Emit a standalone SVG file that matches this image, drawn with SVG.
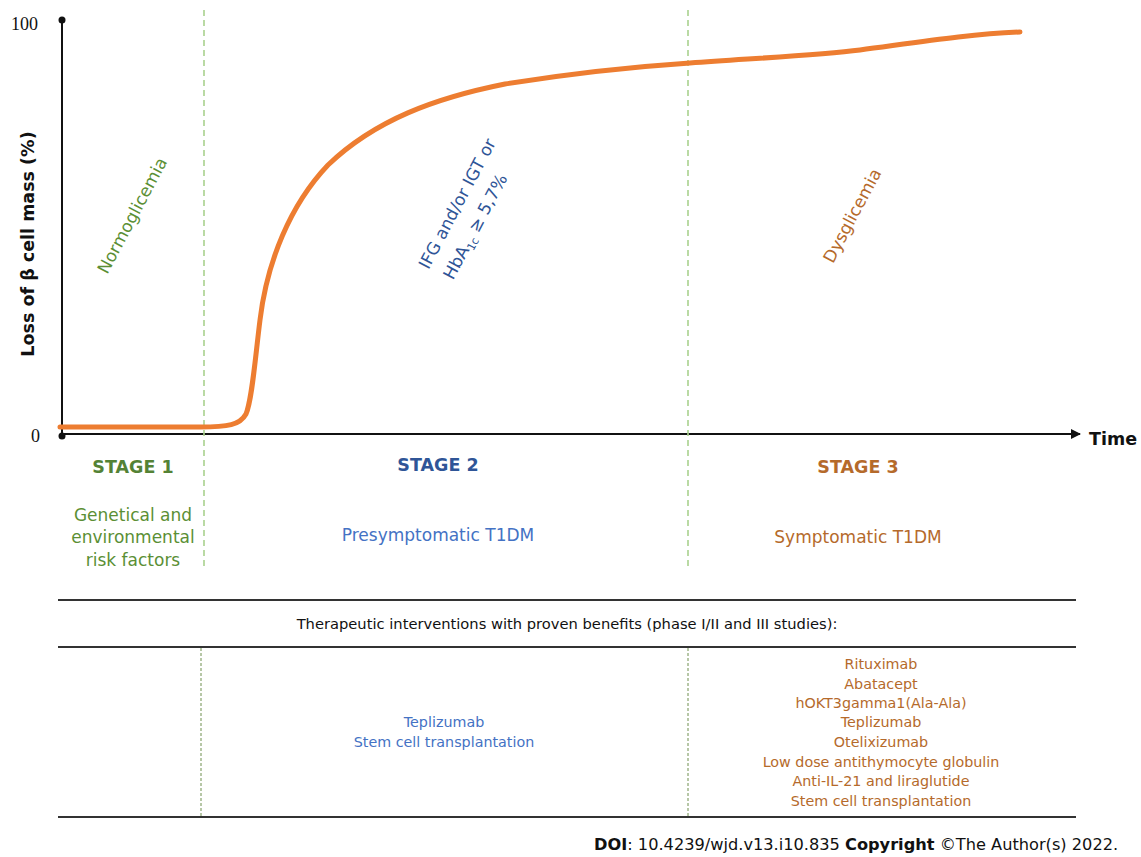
<svg xmlns="http://www.w3.org/2000/svg" width="1141" height="857" viewBox="0 0 1141 857">
<style>
text{font-family:"DejaVu Sans","Liberation Sans",sans-serif}
.num{font-family:"Liberation Serif",serif;font-size:18px;fill:#111}
.ax{stroke:#111;stroke-width:2;fill:none}
.sep{stroke:#a9d18e;stroke-width:1.6;stroke-dasharray:6,4;fill:none}
.sep2{stroke:#6f8f4f;stroke-width:1;stroke-dasharray:3,2;fill:none}
.hl{stroke:#333;stroke-width:2}
.stage{font-weight:bold;font-size:17.5px;text-anchor:middle}
.g{fill:#5b8f35}
.g2{fill:#548235}
.b{fill:#2f5597}
.b2{fill:#4472c4}
.o{fill:#b56a2b}
.t13{font-size:14.3px;text-anchor:middle}
.t15{font-size:17px;text-anchor:middle}
</style>
<defs>
<marker id="arr" markerWidth="10" markerHeight="10" refX="9" refY="5" orient="auto" markerUnits="userSpaceOnUse">
<path d="M0,0 L10,5 L0,10 Z" fill="#111"/>
</marker>
</defs>
<g id="axes">
<line class="ax" x1="62" y1="20" x2="62" y2="435"/>
<line class="ax" x1="62" y1="434" x2="1080" y2="434" marker-end="url(#arr)"/>
<circle cx="62" cy="20" r="3.5" fill="#111"/>
<circle cx="62" cy="436" r="3.5" fill="#111"/>
<text class="num" x="38" y="30" text-anchor="end">100</text>
<text class="num" x="40" y="442" text-anchor="end">0</text>
<text x="1089" y="445" font-weight="bold" font-size="17.5" fill="#111">Time</text>
<text transform="translate(34,244) rotate(-90)" font-weight="bold" font-size="17.5" fill="#111" text-anchor="middle">Loss of β cell mass (%)</text>
</g>
<g id="connectors">
<line class="sep" x1="204" y1="10" x2="204" y2="566"/>
<line class="sep" x1="688" y1="10" x2="688" y2="566"/>
<path d="M60,427 L200,427 C228,427 240,425 246,414 C252,400 255,360 260,320 C267,262 290,205 328,165 C375,120 435,98 505,84 C580,72 630,67 690,63 C760,58 820,55 860,50 C920,42 970,34 1020,32" fill="none" stroke="#ed7d31" stroke-width="5" stroke-linecap="round"/>
</g>
<g id="rot-labels">
<text class="g" transform="translate(133,216) rotate(-62)" font-size="17" text-anchor="middle" dy="5">Normoglicemia</text>
<text class="b" transform="translate(458,204) rotate(-62)" font-size="17" text-anchor="middle" dy="5">IFG and/or IGT or</text>
<text class="b" transform="translate(476,227) rotate(-62)" font-size="17" text-anchor="middle" dy="5">HbA<tspan font-size="11" dy="4">1c</tspan><tspan dy="-4"> ≥ 5,7%</tspan></text>
<text class="o" transform="translate(853,216) rotate(-62)" font-size="17" text-anchor="middle" dy="5">Dysglicemia</text>
</g>
<g id="stage1">
<text class="stage g2" x="133" y="473">STAGE 1</text>
<text class="t15 g" x="133" y="521">Genetical and</text>
<text class="t15 g" x="133" y="543">environmental</text>
<text class="t15 g" x="133" y="566">risk factors</text>
</g>
<g id="stage2">
<text class="stage b" x="438" y="471">STAGE 2</text>
<text class="t15 b2" x="438" y="541">Presymptomatic T1DM</text>
</g>
<g id="stage3">
<text class="stage o" x="858" y="473">STAGE 3</text>
<text class="t15 o" x="858" y="543">Symptomatic T1DM</text>
</g>
<g id="table">
<line class="hl" x1="58" y1="600" x2="1076" y2="600"/>
<line class="hl" x1="58" y1="647" x2="1076" y2="647"/>
<line class="hl" x1="58" y1="817" x2="1076" y2="817"/>
<line class="sep2" x1="201" y1="648" x2="201" y2="816"/>
<line class="sep2" x1="688" y1="648" x2="688" y2="816"/>
<text x="567" y="629" font-size="14.7" text-anchor="middle" fill="#111">Therapeutic interventions with proven benefits (phase I/II and III studies):</text>
<text class="t13 b2" x="444" y="727">Teplizumab</text>
<text class="t13 b2" x="444" y="747">Stem cell transplantation</text>
<text class="t13 o" x="881" y="669">Rituximab</text>
<text class="t13 o" x="881" y="689">Abatacept</text>
<text class="t13 o" x="881" y="708">hOKT3gamma1(Ala-Ala)</text>
<text class="t13 o" x="881" y="727">Teplizumab</text>
<text class="t13 o" x="881" y="747">Otelixizumab</text>
<text class="t13 o" x="881" y="767">Low dose antithymocyte globulin</text>
<text class="t13 o" x="881" y="786">Anti-IL-21 and liraglutide</text>
<text class="t13 o" x="881" y="806">Stem cell transplantation</text>
</g>
<g id="footer">
<text x="594" y="850" font-size="16.2" fill="#111"><tspan font-weight="bold">DOI</tspan>: 10.4239/wjd.v13.i10.835  <tspan font-weight="bold">Copyright</tspan> ©The Author(s) 2022.</text>
</g>
</svg>
